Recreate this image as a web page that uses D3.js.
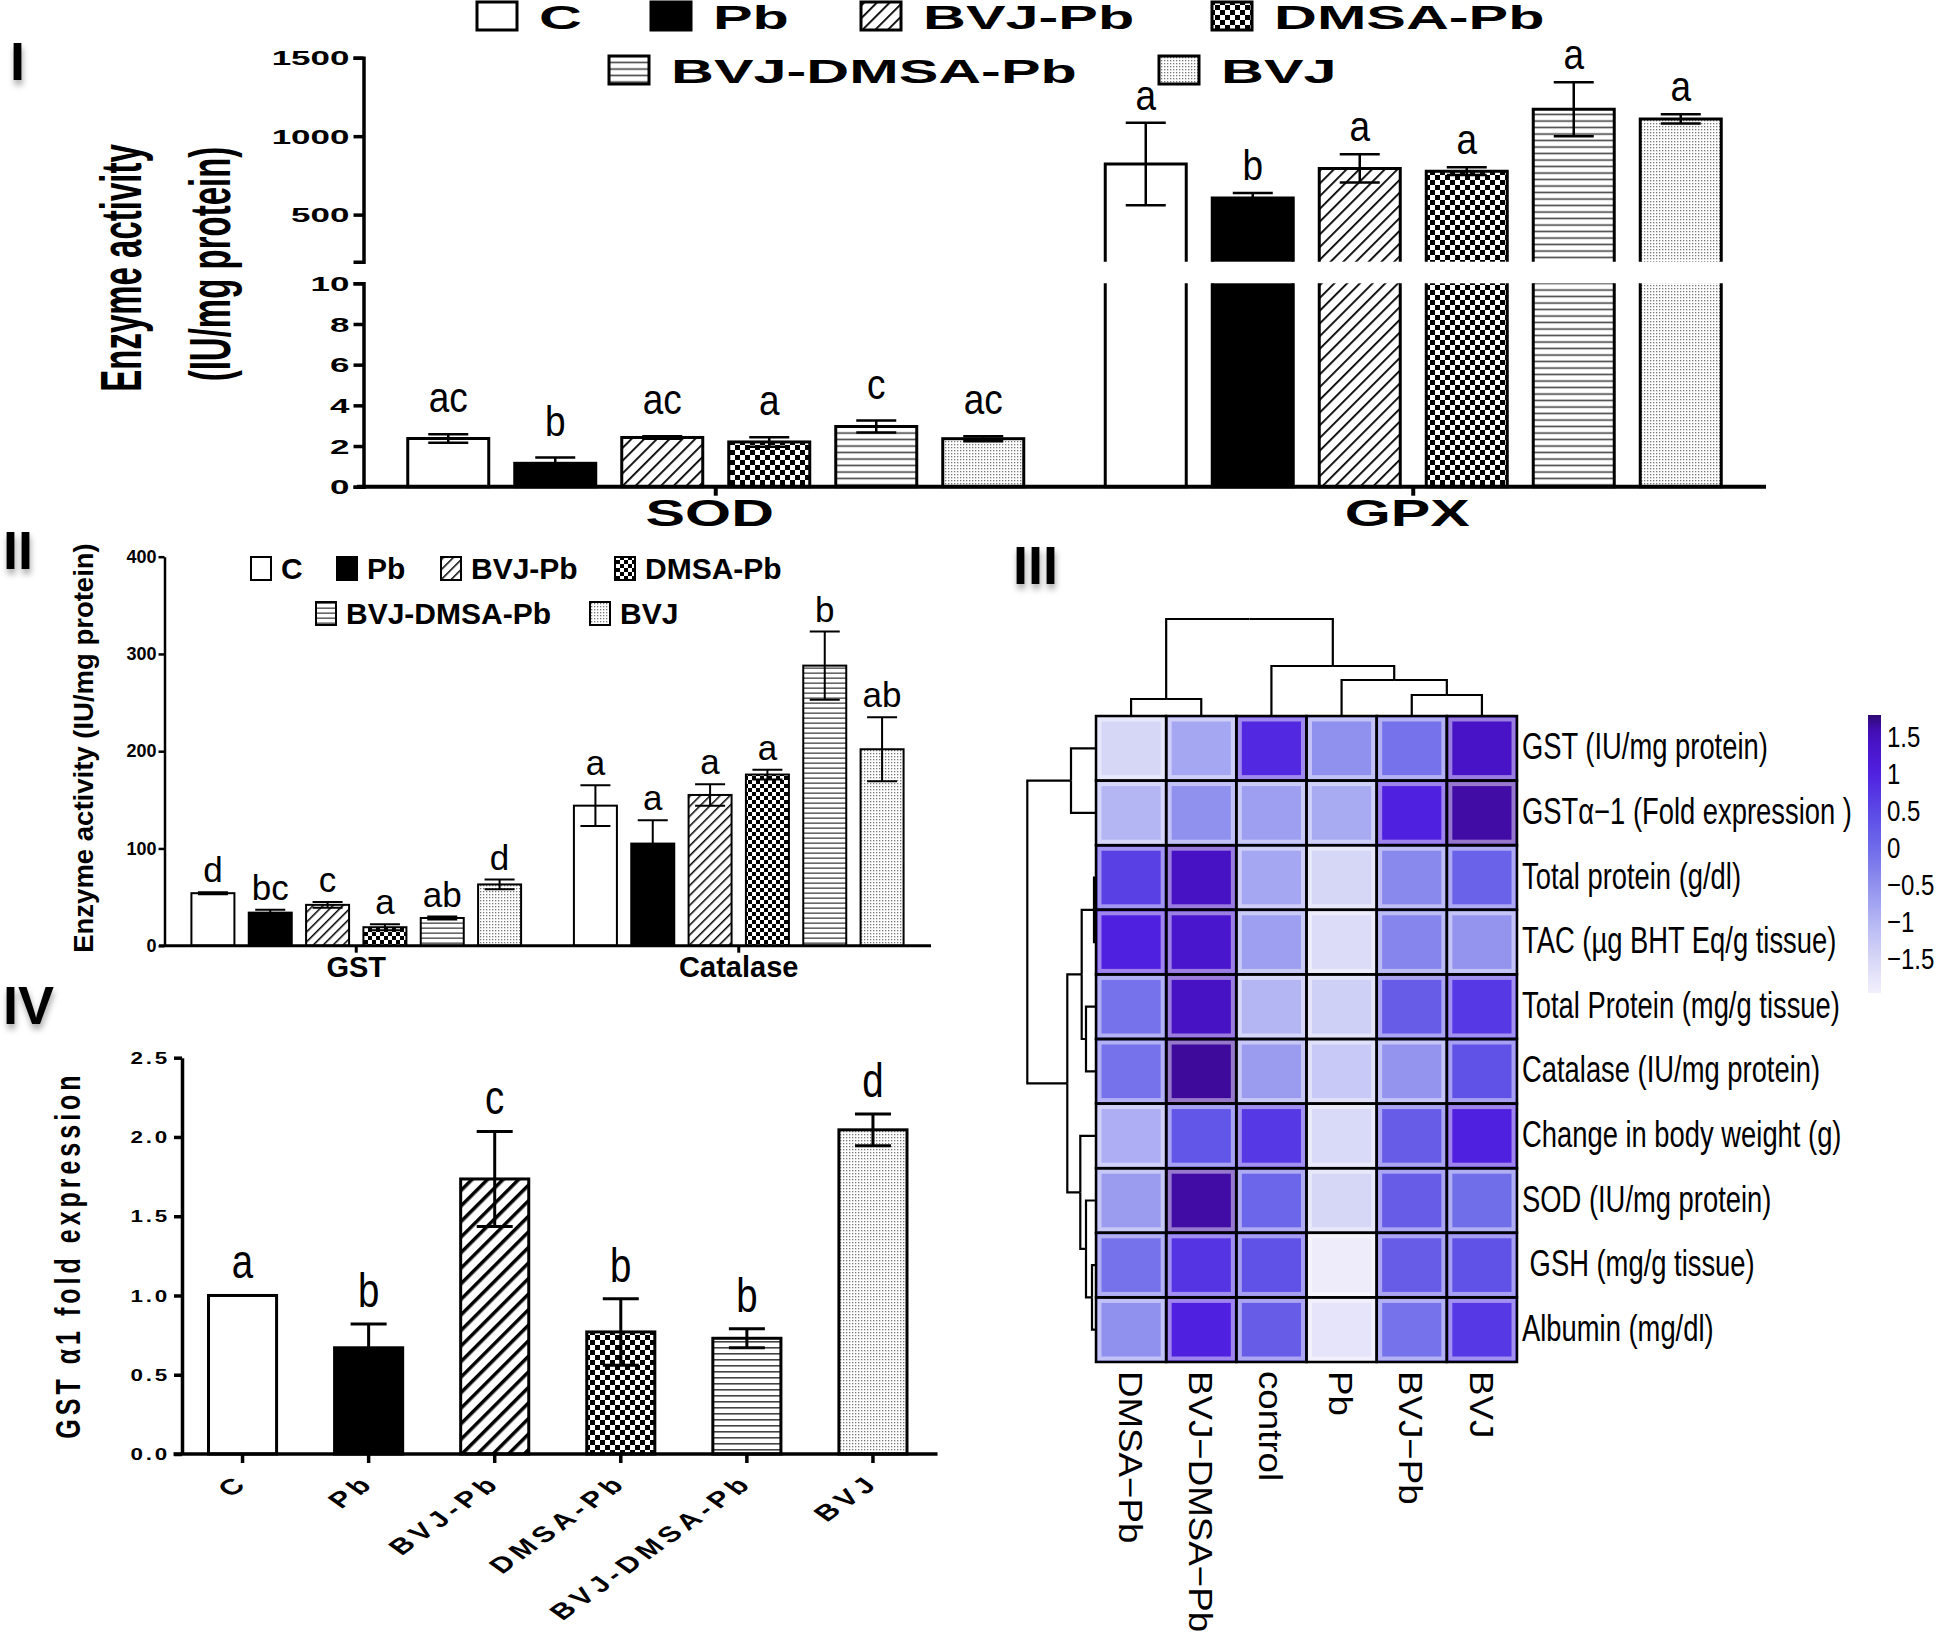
<!DOCTYPE html>
<html>
<head>
<meta charset="utf-8">
<script src="https://cdnjs.cloudflare.com/ajax/libs/d3/7.8.5/d3.min.js"></script>
<style>
  body { margin: 0; background: #fff; }
  svg { display: block; font-family: 'Liberation Sans', Arial, sans-serif; }
</style>
</head>
<body>
<svg id="fig" width="1940" height="1639"></svg>
<script>
// ---------- data ----------
const groups = ['C', 'Pb', 'BVJ-Pb', 'DMSA-Pb', 'BVJ-DMSA-Pb', 'BVJ'];

// panel I
const sodMean = [2.37, 1.15, 2.42, 2.2, 2.96, 2.36];
const sodErr = [0.21, 0.28, 0.06, 0.23, 0.29, 0.12];
const sodLetters = ['ac', 'b', 'ac', 'a', 'c', 'ac'];
const gpxMean = [822, 606, 794, 777, 1172, 1110];
const gpxErr = [263, 32, 90, 25, 172, 30];
const gpxLetters = ['a', 'b', 'a', 'a', 'a', 'a'];
const ticksLow = [0, 2, 4, 6, 8, 10];
const ticksHigh = [500, 1000, 1500];

// panel II
const gstMean = [54, 34, 42, 19, 28.5, 63];
const gstErr = [1, 3, 3, 3, 1.5, 5];
const gstLetters = ['d', 'bc', 'c', 'a', 'ab', 'd'];
const catMean = [144, 105, 155, 176, 288, 202];
const catErr = [21, 24, 11, 5, 35, 33];
const catLetters = ['a', 'a', 'a', 'a', 'b', 'ab'];
const ticksII = [0, 100, 200, 300, 400];

// panel IV
const foldMean = [1.0, 0.67, 1.735, 0.77, 0.73, 2.045];
const foldErr = [0, 0.15, 0.30, 0.21, 0.06, 0.10];
const foldLetters = ['a', 'b', 'c', 'b', 'b', 'd'];
const ticksIV = [0, 0.5, 1, 1.5, 2, 2.5];

// panel III
const heatCols = ['DMSA−Pb', 'BVJ−DMSA−Pb', 'control', 'Pb', 'BVJ−Pb', 'BVJ'];
const heatRows = ['GST (IU/mg protein)', 'GSTα−1 (Fold expression )', 'Total protein (g/dl)',
  'TAC (µg BHT Eq/g tissue)', 'Total Protein (mg/g tissue)', 'Catalase (IU/mg protein)',
  'Change in body weight (g)', 'SOD (IU/mg protein)', ' GSH (mg/g tissue)', 'Albumin (mg/dl)'];
const heatValues = [
  [-1.5, -0.8, 0.9, -0.5, -0.1, 1.4],
  [-1.0, -0.5, -0.7, -0.85, 1.0, 1.65],
  [0.6, 1.45, -0.8, -1.5, -0.4, 0.1],
  [1.0, 1.3, -0.7, -1.6, -0.35, -0.55],
  [-0.1, 1.45, -1.0, -1.4, 0.2, 0.7],
  [-0.1, 1.7, -0.65, -1.3, -0.55, 0.35],
  [-0.9, 0.3, 0.7, -1.55, 0.2, 1.0],
  [-0.65, 1.65, 0.05, -1.5, 0.2, -0.05],
  [-0.1, 0.75, 0.35, -1.9, 0.2, 0.35],
  [-0.5, 1.0, 0.2, -1.75, -0.1, 0.7]
];
const colorTicks = [1.5, 1, 0.5, 0, -0.5, -1, -1.5];
const colorTickLabels = ['1.5', '1', '0.5', '0', '−0.5', '−1', '−1.5'];

// cluster trees (merge heights)
const colTree = { h: 9.7, children: [
  { h: 1.7, children: [{ leaf: 'DMSA−Pb' }, { leaf: 'BVJ−DMSA−Pb' }] },
  { h: 5.0, children: [{ leaf: 'control' },
    { h: 3.6, children: [{ leaf: 'Pb' }, { h: 2.1, children: [{ leaf: 'BVJ−Pb' }, { leaf: 'BVJ' }] }] }] }
] };
const rowTree = { h: 6.87, children: [
  { h: 2.5, children: [{ leaf: 0 }, { leaf: 1 }] },
  { h: 2.87, children: [
    { h: 1.43, children: [
      { h: 0.2, children: [{ leaf: 2 }, { leaf: 3 }] },
      { h: 1.0, children: [{ leaf: 4 }, { leaf: 5 }] }] },
    { h: 1.57, children: [{ leaf: 6 },
      { h: 1.0, children: [{ leaf: 7 }, { h: 0.4, children: [{ leaf: 8 }, { leaf: 9 }] }] }] }
  ] }
] };

// ---------- setup ----------
const svg = d3.select('#fig');
const defs = svg.append('defs');

const shadow = defs.append('filter').attr('id', 'shadow')
  .attr('x', '-50%').attr('y', '-50%').attr('width', '200%').attr('height', '200%');
shadow.append('feDropShadow').attr('dx', 1).attr('dy', 5).attr('stdDeviation', 3)
  .attr('flood-color', '#000').attr('flood-opacity', 0.35);

function makePatterns(id, o) {
  const ph = defs.append('pattern').attr('id', 'hatch-' + id)
    .attr('patternUnits', 'userSpaceOnUse').attr('width', o.hatch).attr('height', o.hatch)
    .attr('patternTransform', 'rotate(45)');
  ph.append('rect').attr('width', o.hatch).attr('height', o.hatch).attr('fill', '#fff');
  ph.append('rect').attr('width', o.hatchW).attr('height', o.hatch).attr('fill', '#000');

  const c = o.check;
  const pc = defs.append('pattern').attr('id', 'check-' + id)
    .attr('patternUnits', 'userSpaceOnUse').attr('width', 2 * c).attr('height', 2 * c);
  pc.append('rect').attr('width', 2 * c).attr('height', 2 * c).attr('fill', '#fff');
  pc.append('rect').attr('width', c).attr('height', c).attr('fill', '#000');
  pc.append('rect').attr('x', c).attr('y', c).attr('width', c).attr('height', c).attr('fill', '#000');

  const pl = defs.append('pattern').attr('id', 'lines-' + id)
    .attr('patternUnits', 'userSpaceOnUse').attr('width', 10).attr('height', o.line);
  pl.append('rect').attr('width', 10).attr('height', o.line).attr('fill', '#fff');
  pl.append('rect').attr('y', o.line / 2).attr('width', 10).attr('height', o.lineW).attr('fill', '#444');

  const pd = defs.append('pattern').attr('id', 'dots-' + id)
    .attr('patternUnits', 'userSpaceOnUse').attr('width', 3).attr('height', 3);
  pd.append('rect').attr('width', 3).attr('height', 3).attr('fill', '#fff');
  pd.append('rect').attr('width', 1.3).attr('height', 1.3).attr('fill', '#777');
}
makePatterns('I', { hatch: 9, hatchW: 1.8, check: 5, line: 6.5, lineW: 1.6 });
makePatterns('II', { hatch: 7, hatchW: 1.5, check: 4, line: 5, lineW: 1.3 });
makePatterns('IV', { hatch: 11, hatchW: 3.5, check: 5, line: 6, lineW: 1.6 });

function fillFor(id, i) {
  return ['#fff', '#000', `url(#hatch-${id})`, `url(#check-${id})`, `url(#lines-${id})`, `url(#dots-${id})`][i];
}

function errorBar(g, cx, y1, y2, cap, sw) {
  g.append('path')
    .attr('d', `M${cx},${y1}V${y2}M${cx - cap / 2},${y1}H${cx + cap / 2}M${cx - cap / 2},${y2}H${cx + cap / 2}`)
    .attr('fill', 'none').attr('stroke', '#000').attr('stroke-width', sw);
}

function letter(g, cx, y, str, size, sx) {
  g.append('text')
    .attr('transform', `translate(${cx},${y}) scale(${sx},1)`)
    .attr('text-anchor', 'middle')
    .attr('font-size', size)
    .text(str);
}

function styleAxis(g, sw) {
  g.attr('font-family', null).attr('font-size', null);
  g.select('.domain').attr('stroke-width', sw).attr('stroke', '#000');
  g.selectAll('.tick line').attr('stroke-width', sw).attr('stroke', '#000');
  g.selectAll('.tick text').attr('fill', '#000');
}

function legend(g, pos, box, font, sx, gap, id, sw) {
  groups.forEach((grp, i) => {
    const p = pos[i];
    g.append('rect').attr('x', p[0]).attr('y', p[1]).attr('width', box[0]).attr('height', box[1])
      .attr('fill', fillFor(id, i)).attr('stroke', '#000').attr('stroke-width', sw);
    g.append('text')
      .attr('transform', `translate(${p[0] + box[0] + gap},${p[1] + box[1] - 1}) scale(${sx},1)`)
      .attr('font-size', font).attr('font-weight', 'bold')
      .text(grp);
  });
}

// panel labels
[['I', 10, 80], ['II', 3, 569], ['III', 1013, 584], ['IV', 3, 1024]].forEach(d => {
  svg.append('text').attr('x', d[1]).attr('y', d[2])
    .attr('font-size', 54).attr('font-weight', 'bold')
    .attr('filter', 'url(#shadow)').text(d[0]);
});

// ---------- panel I ----------
const gI = svg.append('g');
const yLow = d3.scaleLinear().domain([0, 10]).range([486.7, 283.3]);
const yHigh = d3.scaleLinear().domain([200, 1500]).range([261.7, 57.7]);
const x1 = d3.scaleBand().domain(['SOD', 'GPX']).range([367, 1762]);
const x1i = d3.scaleBand().domain(groups).range([0, 642]).paddingInner(0.243).paddingOuter(0.1215);

const panel1 = [
  { name: 'SOD', mean: sodMean, err: sodErr, letters: sodLetters },
  { name: 'GPX', mean: gpxMean, err: gpxErr, letters: gpxLetters }
];

panel1.forEach(set => {
  groups.forEach((grp, i) => {
    const x = x1(set.name) + (x1.bandwidth() - 642) / 2 + x1i(grp);
    const w = x1i.bandwidth();
    const v = set.mean[i], e = set.err[i];
    const fill = fillFor('I', i);
    if (v <= 10) {
      gI.append('rect').attr('x', x).attr('y', yLow(v))
        .attr('width', w).attr('height', yLow(0) - yLow(v))
        .attr('fill', fill).attr('stroke', '#000').attr('stroke-width', 3);
      errorBar(gI, x + w / 2, yLow(v - e), yLow(v + e), 40, 2.5);
      letter(gI, x + w / 2, yLow(v + e) - 22, set.letters[i], 42, 0.88);
    } else {
      const top = yLow(10), bot = yLow(0);
      gI.append('rect').attr('x', x).attr('y', top).attr('width', w).attr('height', bot - top).attr('fill', fill);
      gI.append('path').attr('d', `M${x},${top}V${bot}H${x + w}V${top}`)
        .attr('fill', 'none').attr('stroke', '#000').attr('stroke-width', 3);
      const ht = yHigh(v), hb = yHigh(200);
      gI.append('rect').attr('x', x).attr('y', ht).attr('width', w).attr('height', hb - ht).attr('fill', fill);
      gI.append('path').attr('d', `M${x},${hb}V${ht}H${x + w}V${hb}`)
        .attr('fill', 'none').attr('stroke', '#000').attr('stroke-width', 3);
      errorBar(gI, x + w / 2, yHigh(v - e), yHigh(v + e), 40, 2.5);
      letter(gI, x + w / 2, yHigh(v + e) - 13, set.letters[i], 42, 0.88);
    }
  });
});

const axLow = gI.append('g').attr('transform', 'translate(363.5,0)')
  .call(d3.axisLeft(yLow).tickValues(ticksLow).tickFormat(d3.format('d')).tickSize(10).tickSizeOuter(10));
const axHigh = gI.append('g').attr('transform', 'translate(363.5,0)')
  .call(d3.axisLeft(yHigh).tickValues(ticksHigh).tickFormat(d3.format('d')).tickSize(10).tickSizeOuter(10));
[axLow, axHigh].forEach(a => {
  styleAxis(a, 3.5);
  a.selectAll('.tick text').attr('x', 0).attr('dy', '0.36em')
    .attr('transform', 'translate(-14,0) scale(1.75,1)')
    .attr('font-size', 20).attr('font-weight', 'bold');
});

const axX1 = gI.append('g').attr('transform', 'translate(0,486.7)')
  .call(d3.axisBottom(x1).tickSize(9).tickSizeOuter(0));
styleAxis(axX1, 4);
axX1.select('.domain').attr('d', 'M357,0H1766');
axX1.selectAll('.tick text').attr('y', 0).attr('dy', 0)
  .attr('transform', 'translate(-6,39) scale(1.6,1)')
  .attr('font-size', 37).attr('font-weight', 'bold');

gI.append('text').attr('transform', 'translate(141,268) scale(1.75,1) rotate(-90)')
  .attr('text-anchor', 'middle').attr('font-size', 33).attr('font-weight', 'bold').text('Enzyme activity');
gI.append('text').attr('transform', 'translate(230,264) scale(1.75,1) rotate(-90)')
  .attr('text-anchor', 'middle').attr('font-size', 33).attr('font-weight', 'bold').text('(IU/mg protein)');

legend(gI, [[477, 2], [651, 2], [861, 2], [1212, 2], [609, 56], [1159, 56]], [40, 28], 33, 1.8, 22, 'I', 3);

// ---------- panel II ----------
const gII = svg.append('g');
const x2 = d3.scaleBand().domain(['GST', 'Catalase']).range([165, 930]);
const x2i = d3.scaleBand().domain(groups).range([0, 344]).paddingInner(0.25).paddingOuter(0.125);
const y2 = d3.scaleLinear().domain([0, 400]).range([945.7, 556.7]);
const panel2 = [
  { name: 'GST', mean: gstMean, err: gstErr, letters: gstLetters },
  { name: 'Catalase', mean: catMean, err: catErr, letters: catLetters }
];
panel2.forEach(set => {
  groups.forEach((grp, i) => {
    const x = x2(set.name) + (x2.bandwidth() - 344) / 2 + x2i(grp);
    const w = x2i.bandwidth();
    const v = set.mean[i], e = set.err[i];
    gII.append('rect').attr('x', x).attr('y', y2(v)).attr('width', w).attr('height', y2(0) - y2(v))
      .attr('fill', fillFor('II', i)).attr('stroke', '#000').attr('stroke-width', 2);
    errorBar(gII, x + w / 2, y2(v - e), y2(v + e), 30, 2);
    letter(gII, x + w / 2, y2(v + e) - 10, set.letters[i], 35, 1);
  });
});
const axY2 = gII.append('g').attr('transform', 'translate(164.5,0)')
  .call(d3.axisLeft(y2).tickValues(ticksII).tickSize(6).tickSizeOuter(0));
styleAxis(axY2, 2.5);
axY2.selectAll('.tick text').attr('x', -8).attr('font-size', 18).attr('font-weight', 'bold');
const axX2 = gII.append('g').attr('transform', 'translate(0,945.7)')
  .call(d3.axisBottom(x2).tickSize(7).tickSizeOuter(0));
styleAxis(axX2, 3);
axX2.select('.domain').attr('d', 'M159,0H931');
axX2.selectAll('.tick text').attr('y', 31).attr('dy', 0).attr('font-size', 29).attr('font-weight', 'bold');
gII.append('text').attr('transform', 'translate(93,748) rotate(-90)')
  .attr('text-anchor', 'middle').attr('font-size', 27.5).attr('font-weight', 'bold')
  .text('Enzyme activity (IU/mg protein)');
legend(gII, [[251, 557], [337, 557], [441, 557], [615, 557], [316, 602], [590, 602]], [20, 23], 30, 1, 10, 'II', 2);

// ---------- panel IV ----------
const gIV = svg.append('g');
const x4 = d3.scaleBand().domain(groups).range([179.5, 936]).paddingInner(0.46).paddingOuter(0.23);
const y4 = d3.scaleLinear().domain([0, 2.5]).range([1454, 1057.7]);
groups.forEach((grp, i) => {
  const x = x4(grp), w = x4.bandwidth();
  const v = foldMean[i], e = foldErr[i];
  gIV.append('rect').attr('x', x).attr('y', y4(v)).attr('width', w).attr('height', y4(0) - y4(v))
    .attr('fill', fillFor('IV', i)).attr('stroke', '#000').attr('stroke-width', 3);
  if (e > 0) errorBar(gIV, x + w / 2, y4(v - e), y4(v + e), 36, 3);
  letter(gIV, x + w / 2, y4(v + e) - 17, foldLetters[i], 48, 0.8);
});
const axY4 = gIV.append('g').attr('transform', 'translate(182,0)')
  .call(d3.axisLeft(y4).tickValues(ticksIV).tickFormat(d3.format('.1f')).tickSize(8).tickSizeOuter(0));
styleAxis(axY4, 3.5);
axY4.selectAll('.tick text').attr('x', 0).attr('dy', '0.36em')
  .attr('transform', 'translate(-12,0) scale(1.4,1)')
  .attr('font-size', 16).attr('font-weight', 'bold').attr('letter-spacing', 2);
const axX4 = gIV.append('g').attr('transform', 'translate(0,1454)')
  .call(d3.axisBottom(x4).tickSize(9).tickSizeOuter(0));
styleAxis(axX4, 3.5);
axX4.select('.domain').attr('d', 'M173.5,0H937.5');
axX4.selectAll('.tick text').attr('y', 0).attr('dy', 0).attr('text-anchor', 'end')
  .attr('transform', 'translate(8,30) scale(1.4,1) rotate(-45)')
  .attr('font-size', 22).attr('font-weight', 'bold').attr('letter-spacing', 4);
gIV.append('text').attr('transform', 'translate(80,1255) scale(1.4,1) rotate(-90)')
  .attr('text-anchor', 'middle').attr('font-size', 25).attr('font-weight', 'bold')
  .attr('letter-spacing', 4).text('GST α1 fold expression');

// ---------- panel III ----------
const gIII = svg.append('g');
const hx = d3.scaleBand().domain(heatCols).range([1096, 1517]);
const hy = d3.scaleBand().domain(heatRows).range([716, 1362]);
const color = d3.scaleLinear()
  .domain([-2, -1.5, -1, -0.5, 0, 0.5, 1, 1.5, 1.7, 1.8])
  .range(['#f4f2fc', '#d6d6f7', '#b4b6f4', '#9090ee', '#6e6aea', '#5a48e6', '#5020e0', '#4610c0', '#3e0a9c', '#2a0a68']);

const cells = [];
heatRows.forEach((r, ri) => heatCols.forEach((c, ci) => cells.push({ r, c, v: heatValues[ri][ci] })));

gIII.selectAll('rect.cell').data(cells).enter().append('rect')
  .attr('class', 'cell')
  .attr('x', d => hx(d.c)).attr('y', d => hy(d.r))
  .attr('width', hx.bandwidth()).attr('height', hy.bandwidth())
  .attr('fill', d => color(d.v));
gIII.selectAll('rect.halo').data(cells).enter().append('rect')
  .attr('class', 'halo')
  .attr('x', d => hx(d.c) + 3.5).attr('y', d => hy(d.r) + 3.5)
  .attr('width', hx.bandwidth() - 7).attr('height', hy.bandwidth() - 7)
  .attr('fill', 'none').attr('stroke', '#fff').attr('stroke-opacity', 0.45).attr('stroke-width', 4);
gIII.selectAll('rect.grid').data(cells).enter().append('rect')
  .attr('class', 'grid')
  .attr('x', d => hx(d.c)).attr('y', d => hy(d.r))
  .attr('width', hx.bandwidth()).attr('height', hy.bandwidth())
  .attr('fill', 'none').attr('stroke', '#000').attr('stroke-width', 2.5);

gIII.selectAll('text.row').data(heatRows).enter().append('text')
  .attr('class', 'row')
  .attr('transform', d => `translate(1522,${hy(d) + hy.bandwidth() / 2 + 11}) scale(0.74,1)`)
  .attr('font-size', 37).style('white-space', 'pre')
  .text(d => d);

gIII.selectAll('text.col').data(heatCols).enter().append('text')
  .attr('class', 'col')
  .attr('transform', d => `translate(${hx(d) + hx.bandwidth() / 2},1371) scale(1,1.08) rotate(90)`)
  .attr('dy', '0.36em').attr('font-size', 34)
  .text(d => d);

// dendrograms
const hCol = d3.scaleLinear().domain([0, 9.7]).range([716, 619]);
const colRoot = d3.hierarchy(colTree);
colRoot.eachAfter(n => {
  n.p = n.children ? d3.mean(n.children, c => c.p) : hx(n.data.leaf) + hx.bandwidth() / 2;
  n.hh = n.children ? n.data.h : 0;
});
colRoot.descendants().filter(n => n.parent).forEach(n => {
  gIII.append('path').attr('d', `M${n.p},${hCol(n.hh)}V${hCol(n.parent.hh)}H${n.parent.p}`)
    .attr('fill', 'none').attr('stroke', '#000').attr('stroke-width', 2.2);
});

const hRow = d3.scaleLinear().domain([0, 6.87]).range([1096, 1027.3]);
const rowRoot = d3.hierarchy(rowTree);
rowRoot.eachAfter(n => {
  n.p = n.children ? d3.mean(n.children, c => c.p) : hy(heatRows[n.data.leaf]) + hy.bandwidth() / 2;
  n.hh = n.children ? n.data.h : 0;
});
rowRoot.descendants().filter(n => n.parent).forEach(n => {
  gIII.append('path').attr('d', `M${hRow(n.hh)},${n.p}H${hRow(n.parent.hh)}V${n.parent.p}`)
    .attr('fill', 'none').attr('stroke', '#000').attr('stroke-width', 2.2);
});

// colour key
const cy = d3.scaleLinear().domain([-1.97, 1.78]).range([993, 715]);
const grad = defs.append('linearGradient').attr('id', 'cbar')
  .attr('x1', 0).attr('y1', 0).attr('x2', 0).attr('y2', 1);
d3.range(0, 1.0001, 0.05).forEach(t => {
  grad.append('stop').attr('offset', t).attr('stop-color', color(cy.invert(715 + t * 278)));
});
gIII.append('rect').attr('x', 1868).attr('y', cy(1.78)).attr('width', 13)
  .attr('height', cy(-1.97) - cy(1.78)).attr('fill', 'url(#cbar)');
gIII.selectAll('text.key').data(colorTicks).enter().append('text')
  .attr('class', 'key')
  .attr('transform', d => `translate(1887,${cy(d) + 11}) scale(0.8,1)`)
  .attr('font-size', 30)
  .text((d, i) => colorTickLabels[i]);
</script>
</body>
</html>
